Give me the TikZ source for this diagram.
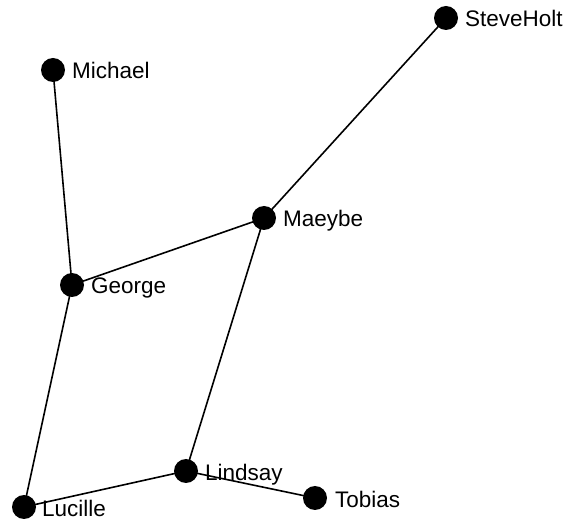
\documentclass[tikz,border=0pt]{standalone}
\usepackage{fontspec}
\setmainfont{Liberation Sans}
\begin{document}
\begin{tikzpicture}[x=1pt,y=-1pt,
  vert/.style={circle,fill=black,inner sep=0pt,minimum size=24pt},
  lbl/.style={anchor=base west,inner sep=0pt,font=\fontsize{22.5}{26}\selectfont},
  edge/.style={line width=1.6pt,black}]
\useasboundingbox (0,0) rectangle (571,521);
\coordinate (pSH) at (446,18);
\coordinate (pMi) at (53,70);
\coordinate (pMa) at (264,218);
\coordinate (pGe) at (72,285);
\coordinate (pLi) at (186,471);
\coordinate (pTo) at (315,498);
\coordinate (pLu) at (24,507);
\draw[edge] (pMi) -- (pGe);
\draw[edge] (pGe) -- (pMa);
\draw[edge] (pMa) -- (pSH);
\draw[edge] (pGe) -- (pLu);
\draw[edge] (pMa) -- (pLi);
\draw[edge] (pLu) -- (pLi);
\draw[edge] (pLi) -- (pTo);
\node[vert] (SH) at (pSH) {};
\node[vert] (Mi) at (pMi) {};
\node[vert] (Ma) at (pMa) {};
\node[vert] (Ge) at (pGe) {};
\node[vert] (Li) at (pLi) {};
\node[vert] (To) at (pTo) {};
\node[vert] (Lu) at (pLu) {};
\node[lbl] (tSH) at ([shift={(19,9)}]pSH) {SteveHolt};
\node[lbl] (tMi) at ([shift={(19,9)}]pMi) {Michael};
\node[lbl] (tMa) at ([shift={(19,9)}]pMa) {Maeybe};
\node[lbl] (tGe) at ([shift={(19,9)}]pGe) {George};
\node[lbl] (tLi) at ([shift={(19,10)}]pLi) {Lindsay};
\node[lbl] (tTo) at ([shift={(20,10)}]pTo) {Tobias};
\node[lbl] (tLu) at ([shift={(18,10)}]pLu) {Lucille};
\end{tikzpicture}
\end{document}
